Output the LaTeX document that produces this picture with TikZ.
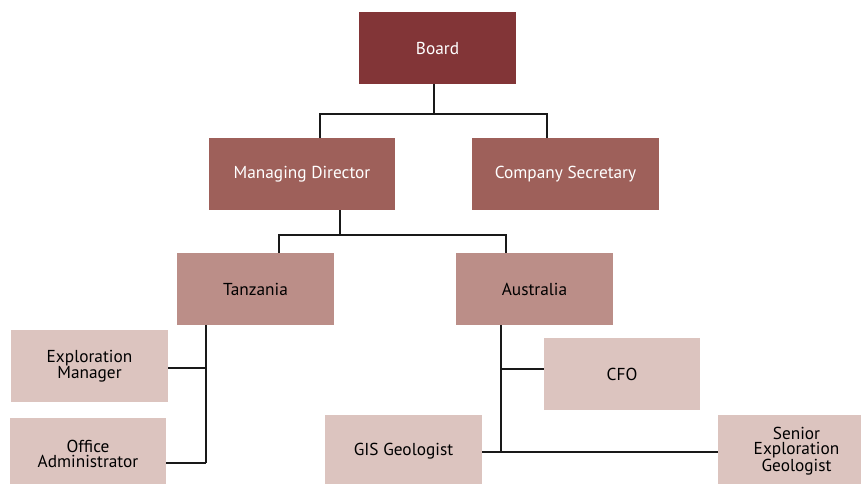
\documentclass[tikz,border=0pt]{standalone}
\usepackage{fontspec}
\setmainfont{PT Sans}
\begin{document}
\begin{tikzpicture}[x=1pt,y=-1pt,
  box/.style={rectangle, inner sep=0pt, minimum height=72pt, align=center,
    font=\fontsize{17.3}{15.2}\selectfont},
  lvlA/.style={box, fill=boardred, text=white},
  lvlB/.style={box, fill=midred, text=white},
  lvlC/.style={box, fill=regionrose, text=black},
  lvlD/.style={box, fill=staffpink, text=black},
  conn/.style={draw=black!90, line width=1.7pt}]
\definecolor{boardred}{HTML}{823537}
\definecolor{midred}{HTML}{9E605A}
\definecolor{regionrose}{HTML}{BB8E88}
\definecolor{staffpink}{HTML}{DCC4BF}
\useasboundingbox (0,0) rectangle (861,483);
\begin{scope}
\clip (0,0) rectangle (861,483);
% boxes
\node[lvlA, minimum width=157pt] (bd) at (437.5,48) {Board};
\node[lvlB, minimum width=186pt] (md) at (302,174) {Managing Director};
\node[lvlB, minimum width=187pt] (cs) at (565.5,174) {Company Secretary};
\node[lvlC, minimum width=157pt] (tz) at (255.5,289) {Tanzania};
\node[lvlC, minimum width=157pt] (au) at (534.5,289) {Australia};
\node[lvlD, minimum width=157pt] (em) at (89.5,366) {Exploration\\Manager};
\node[lvlD, minimum width=156pt] (oa) at (88,454) {Office\\Administrator};
\node[lvlD, minimum width=156pt] (cfo) at (622,374) {CFO};
\node[lvlD, minimum width=157pt] (gis) at (403.5,451) {GIS Geologist};
\node[lvlD, minimum width=157pt] (sen) at (796.5,451) {Senior\\Exploration\\Geologist};
\end{scope}
% junction points
\coordinate (bj) at (434,114);
\coordinate (mdt) at (320,114);
\coordinate (cst) at (547,114);
\coordinate (mj) at (340,235);
\coordinate (tzt) at (279,235);
\coordinate (aut) at (506,235);
\coordinate (tzem) at (206,368);
\coordinate (tzbot) at (206,463);
\coordinate (aucfo) at (501,369);
\coordinate (aubot) at (501,452);
% connectors
\draw[conn] (bd.south -| bj) -- (bj);
\draw[conn] (md.north -| mdt) -- (mdt) -- (cst) -- (cs.north -| cst);
\draw[conn] (md.south -| mj) -- (mj);
\draw[conn] (tz.north -| tzt) -- (tzt) -- (aut) -- (au.north -| aut);
\draw[conn] (tz.south -| tzbot) -- (tzbot);
\draw[conn] (em.east |- tzem) -- (tzem);
\draw[conn] (oa.east |- tzbot) -- (tzbot);
\draw[conn] (au.south -| aubot) -- (aubot);
\draw[conn] (aucfo) -- (cfo.west |- aucfo);
\draw[conn] (gis.east |- aubot) -- (sen.west |- aubot);
\end{tikzpicture}
\end{document}
